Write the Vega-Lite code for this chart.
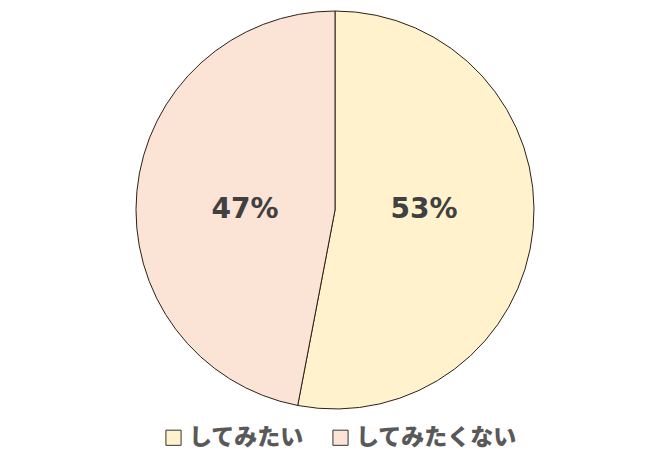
{
  "$schema": "https://vega.github.io/schema/vega-lite/v6.json",
  "width": 670,
  "height": 420,
  "padding": {"left": 0, "top": 0, "right": 0, "bottom": 48},
  "autosize": {"type": "none"},
  "background": "white",
  "data": {
    "values": [
      {"answer": "してみたい", "share": 53, "label": "53%", "order": 1},
      {"answer": "してみたくない", "share": 47, "label": "47%", "order": 2}
    ]
  },
  "encoding": {
    "theta": {"field": "share", "type": "quantitative", "stack": true},
    "order": {"field": "order", "type": "quantitative"},
    "color": {
      "field": "answer",
      "type": "nominal",
      "sort": ["してみたい", "してみたくない"],
      "scale": {"domain": ["してみたい", "してみたくない"], "range": ["#FFF2CC", "#FBE3D6"]},
      "legend": {
        "title": null,
        "orient": "none",
        "legendX": 162,
        "legendY": 426,
        "direction": "horizontal",
        "symbolType": "square",
        "symbolSize": 230,
        "symbolStrokeColor": "#333333",
        "symbolStrokeWidth": 1,
        "symbolOpacity": 1,
        "labelFont": "Noto Sans CJK JP",
        "labelFontSize": 23,
        "labelFontWeight": 900,
        "labelColor": "#595959",
        "labelOffset": 4,
        "labelLimit": 300,
        "columnPadding": 25
      }
    }
  },
  "layer": [
    {
      "mark": {"type": "arc", "radius": 199, "stroke": "#2b2118", "strokeWidth": 1}
    },
    {
      "transform": [{"filter": "datum.order == 1"}],
      "mark": {"type": "text", "radius": 89, "theta": 1.5708, "font": "DejaVu Sans", "fontSize": 28, "fontWeight": "bold", "fill": "#404040"},
      "encoding": {
        "theta": null,
        "text": {"field": "label"},
        "color": {"value": "#404040"}
      }
    },
    {
      "transform": [{"filter": "datum.order == 2"}],
      "mark": {"type": "text", "radius": 90, "theta": 4.7124, "font": "DejaVu Sans", "fontSize": 28, "fontWeight": "bold", "fill": "#404040"},
      "encoding": {
        "theta": null,
        "text": {"field": "label"},
        "color": {"value": "#404040"}
      }
    }
  ]
}
